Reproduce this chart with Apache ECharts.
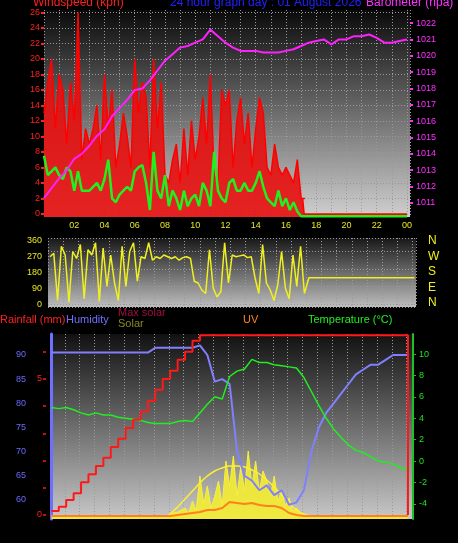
<!DOCTYPE html>
<html><head><meta charset="utf-8">
<script src="https://cdn.jsdelivr.net/npm/echarts@6/dist/echarts.min.js"></script>
<style>html,body{margin:0;padding:0;background:#000}#c{width:458px;height:543px}</style>
</head><body><div id="c"></div>
<script>
// ---- data ----
// 15-minute samples from 00:00 to 16:45
const gust = [13,17,20,11, 18,16,9,17, 12,26,7,11, 9,11,14,7, 18,11,16,6, 9,13,10,6, 20,13,17,15, 6,20,11,17, 5,4,7,9, 4,11,5,12, 7,10,15,9, 18,5,4,16, 14,16,6,12, 15,9,13,6, 11,15,13,6, 5,9,6,5, 6,5,4,7, 2,2];
const avgWind = [7.5,5,5.5,6, 5,4.5,6,5.5, 3,5.5,3,3, 3,3.5,4,3, 4.5,7,2,1.5, 2.5,3,3.5,3, 5.5,6,6.3,4, 0.5,8,3,2, 5,1,3,2, 0.5,3,1,2, 2.5,1,4,3, 1,8,3,2, 1.5,4,4.5,3, 3,4,3,3, 4,5.5,3.5,2, 1.5,1,3,1, 2,0.5,1.5,0.3, -0.3];
// 30-minute samples 00:00 - 24:00
const baro = [1011.3,1011.9,1012.5,1013.0,1013.7,1014.0,1014.5,1015.1,1015.5,1016.3,1016.8,1017.3,1017.9,1018.0,1018.5,1019.1,1019.7,1020.1,1020.5,1020.6,1020.8,1021.0,1021.6,1021.2,1020.8,1020.5,1020.3,1020.3,1020.3,1020.2,1020.2,1020.2,1020.3,1020.4,1020.6,1020.8,1020.9,1021.0,1020.7,1021.0,1021.0,1021.2,1021.2,1021.3,1021.1,1020.8,1020.8,1020.9,1021.0];
// wind direction, 15-minute samples 00:00 - 16:45, then steady
const windDir = [270,290,20,330, 280,10,300,260, 340,30,310,280, 350,15,320,100, 280,120,20,330, 100,300,350,130, 270,260,350,250, 270,260,280,270, 260,270,250,265, 270,260,130,120, 80,60,310,90, 40,70,350,120, 280,270,275,280, 265,270,150,60, 340,120,80,20, 110,300,90,30, 280,100,330,60];
const windDirLate = 150;
const humidity = [90.5,90.5,90.5,90.5,90.5,90.5,90.5,90.5,90.5,90.5,90.5,90.5,90.5,90.5,91.5,91.5,91.5,91.5,91.5,91.5,92,90,84.5,85,84,70,65,64,62,63,61,62,59,59.5,62,70,75,78,80,82,84,86,87,88,88,89,90,90,90];
const rain = [0.15,0.3,0.55,0.8,1.2,1.5,1.8,2.1,2.5,2.8,3.2,3.5,3.8,4.2,4.6,5.0,5.3,5.7,6.0,6.4,6.6,6.6,6.6,6.6,6.6,6.6,6.6,6.6,6.6,6.6,6.6,6.6,6.6,6.6,6.6,6.6,6.6,6.6,6.6,6.6,6.6,6.6,6.6,6.6,6.6,6.6,6.6,6.6,6.6];
const temperature = [5,4.9,5,4.8,4.5,4.3,4.5,4.3,4.3,4.1,4.0,3.9,3.8,3.6,3.5,3.5,3.5,3.7,3.8,3.7,4.5,5.3,6,5.8,7.9,8.4,8.6,9.5,9.2,9.2,9.0,8.9,8.8,8.7,7.8,6.5,5.2,4.0,3.0,2.2,1.5,1.0,0.8,0.4,0,-0.1,-0.3,-0.6,-0.9];
// solar, 15-minute samples from 07:45 to 17:30
const solar = [0,2,3,4,6,8,3,15,5,40,12,30,8,20,35,10,55,30,60,20,50,25,65,30,55,25,45,35,20,40,15,25,10,18,5,8,3,2,1,0];
// max solar, 30-minute samples from 08:00 to 17:00
const maxSolar = [2,9,17,25,33,40,45,48,50,50,49,46,42,36,29,21,13,6,1.5];
// UV, 30-minute samples from 08:00 to 17:00
const uv = [0,0.1,0.2,0.3,0.4,0.6,0.6,0.8,1.4,1.3,1.2,1.3,1.1,1.0,1.0,0.8,0.3,0.1,0];
const windTicks=[0,2,4,6,8,10,12,14,16,18,20,22,24,26];
const baroTicks=[1011,1012,1013,1014,1015,1016,1017,1018,1019,1020,1021,1022];
const dirTicks=[0,90,180,270,360];
const humTicks=[60,65,70,75,80,85,90];
const rainTicks=[0,5];
const tempTicks=[-4,-2,0,2,4,6,8,10];

// ---- build ----
const at=(arr,start,step)=>arr.map((v,i)=>[start+i*step,v]);
const gustD=at(gust,0,0.25).concat([[17.1,2],[17.2,0],[24,0]]);
const avgD=at(avgWind,0,0.25).concat([[24,-0.3]]);
const dirD=at(windDir,0,0.25).concat([[17.05,windDirLate],[24,windDirLate]]);
const solarD=[[0,0]].concat(at(solar,7.75,0.25)).concat([[24,0]]);
const maxSolarD=[[0,0],[7.8,0]].concat(at(maxSolar,8,0.5)).concat([[17.4,0],[24,0]]);
const uvD=[[0,0]].concat(at(uv,8,0.5)).concat([[24,0]]);
const rainD=at(rain,0,0.5).concat([[24,0]]);

const F='"Liberation Sans"';
const bg=(a,b)=>({type:'linear',x:0,y:0,x2:0,y2:1,colorStops:[{offset:0,color:a},{offset:1,color:b}]});
const split={show:true,lineStyle:{color:'#9a9a9a',type:[1,2],width:1}};
const hourLbl=v=>(v%2===0&&v>0)?String(v%24).padStart(2,'0'):'';
function xAx(gi,min,max,show){return {type:'value',gridIndex:gi,min,max,interval:1,
  axisLine:{show:false},axisTick:{show:false},splitLine:split,
  axisLabel:{show:show,formatter:hourLbl,color:'#e8e820',fontSize:9,fontFamily:F,margin:4,showMinLabel:false,showMaxLabel:false}};}
function yAx(gi,min,max,ticks,color,pos,extra){return Object.assign({type:'value',gridIndex:gi,min,max,position:pos,
  axisLine:{show:false},axisTick:{show:false},splitLine:{show:false},
  axisLabel:{color,fontSize:9,fontFamily:F,margin:4,customValues:ticks,formatter:v=>String(v)}},extra||{});}

const chart=echarts.init(document.getElementById('c'));
chart.setOption({
 backgroundColor:'#000',animation:false,
 grid:[
  {left:44,top:10,width:366,height:207,show:true,borderWidth:0,backgroundColor:bg('#0a0a0a','#d0d0d0')},
  {left:48,top:238,width:368,height:69,show:true,borderWidth:0,backgroundColor:bg('#181818','#bdbdbd')},
  {left:50,top:334,width:363,height:185,show:true,borderWidth:0,backgroundColor:bg('#111','#c8c8c8')}
 ],
 xAxis:[xAx(0,0,24.2,true),xAx(1,-0.13,24.1,false),xAx(2,-0.09,24.34,true)],
 yAxis:[
  yAx(0,-0.4,26.3,windTicks,'#ff2020','left',{splitLine:{show:true,lineStyle:{color:'#9a9a9a',type:[1,2]}},axisTick:{show:true,customValues:windTicks,length:3,lineStyle:{color:'#ff2020',width:2}}}),
  yAx(0,1010.14,1022.8,baroTicks,'#ff30ff','right',{axisLabel:{color:'#ff30ff',fontSize:9,fontFamily:F,margin:6,customValues:baroTicks,formatter:v=>String(v)},axisTick:{show:true,customValues:baroTicks,length:3,lineStyle:{color:'#ff30ff',width:2}}}),
  yAx(1,-17,377,dirTicks,'#e8e820','left',{splitLine:{show:true,lineStyle:{color:'#9a9a9a',type:[1,2]}},axisLabel:{color:'#e8e820',fontSize:9,fontFamily:F,margin:6,customValues:dirTicks,formatter:v=>String(v)}}),
  yAx(2,56.05,94.35,humTicks,'#6a6aff','left',{offset:20,axisLine:{show:true,lineStyle:{color:'#7070ff',width:3}}}),
  yAx(2,-0.147,6.65,rainTicks,'#ff2020','left',{offset:4,axisTick:{show:true,customValues:[0,1,2,3,4,5,6],length:3,lineStyle:{color:'#c01010',width:2}}}),
  yAx(2,-5.41,11.87,tempTicks,'#20e020','right',{axisLine:{show:true,lineStyle:{color:'#20c020',width:2}},axisTick:{show:true,customValues:tempTicks,length:3,lineStyle:{color:'#20c020'}},axisLabel:{color:'#20e020',fontSize:9,fontFamily:F,margin:6,customValues:tempTicks,formatter:v=>String(v)}}),
  yAx(2,-3,182,[],'#000','right',{show:false}),
  yAx(2,-0.3,18.2,[],'#000','right',{show:false})
 ],
 series:[
  {type:'line',xAxisIndex:0,yAxisIndex:0,data:gustD,symbol:'none',lineStyle:{color:'#ff0000',width:1.5},areaStyle:{color:'#e81010',opacity:0.9,origin:'start'}},
  {type:'line',xAxisIndex:0,yAxisIndex:0,data:avgD,symbol:'none',lineStyle:{color:'#20f020',width:2.5}},
  {type:'line',xAxisIndex:0,yAxisIndex:1,data:at(baro,0,0.5),symbol:'none',lineStyle:{color:'#ff20ff',width:2}},
  {type:'line',xAxisIndex:1,yAxisIndex:2,data:dirD,symbol:'none',lineStyle:{color:'#f0f020',width:1.5}},
  {type:'line',xAxisIndex:2,yAxisIndex:6,data:solarD,symbol:'none',lineStyle:{color:'#f8f040',width:1},areaStyle:{color:'#f4ec30',opacity:0.9,origin:'start'}},
  {type:'line',xAxisIndex:2,yAxisIndex:6,data:maxSolarD,smooth:true,symbol:'none',lineStyle:{color:'#ffee30',width:1.5}},
  {type:'line',xAxisIndex:2,yAxisIndex:7,data:uvD,symbol:'none',lineStyle:{color:'#ff8020',width:2}},
  {type:'line',xAxisIndex:2,yAxisIndex:3,data:at(humidity,0,0.5),symbol:'none',lineStyle:{color:'#8080ff',width:2}},
  {type:'line',xAxisIndex:2,yAxisIndex:5,data:at(temperature,0,0.5),symbol:'none',lineStyle:{color:'#20ee20',width:1.5}},
  {type:'line',xAxisIndex:2,yAxisIndex:4,data:rainD,step:'end',symbol:'none',lineStyle:{color:'#ff1818',width:2}}
 ],
 graphic:[
  {type:'text',left:33,top:-3,style:{text:'Windspeed (kph)',fill:'#ff2020',font:'12px '+F}},
  {type:'text',left:170,top:-3,style:{text:'24 hour graph day : 01 August 2026',fill:'#2020ff',font:'12px '+F}},
  {type:'text',left:366,top:-3,style:{text:'Barometer (hpa)',fill:'#ff30ff',font:'12px '+F}},
  {type:'text',left:428,top:233,style:{text:'N\nW\nS\nE\nN',fill:'#f0f020',font:'12px '+F,lineHeight:15.5}},
  {type:'text',left:0,top:314,style:{text:'Rainfall (mm)',fill:'#ff2020',font:'11px '+F}},
  {type:'text',left:66,top:314,style:{text:'Humidity',fill:'#7070ff',font:'11px '+F}},
  {type:'text',left:118,top:307,style:{text:'Max solar',fill:'#a01040',font:'11px '+F}},
  {type:'text',left:118,top:318,style:{text:'Solar',fill:'#8a8a20',font:'11px '+F}},
  {type:'text',left:243,top:314,style:{text:'UV',fill:'#ff8020',font:'11px '+F}},
  {type:'text',left:308,top:314,style:{text:'Temperature (°C)',fill:'#20ee20',font:'11px '+F}}
 ]
});
</script></body></html>
